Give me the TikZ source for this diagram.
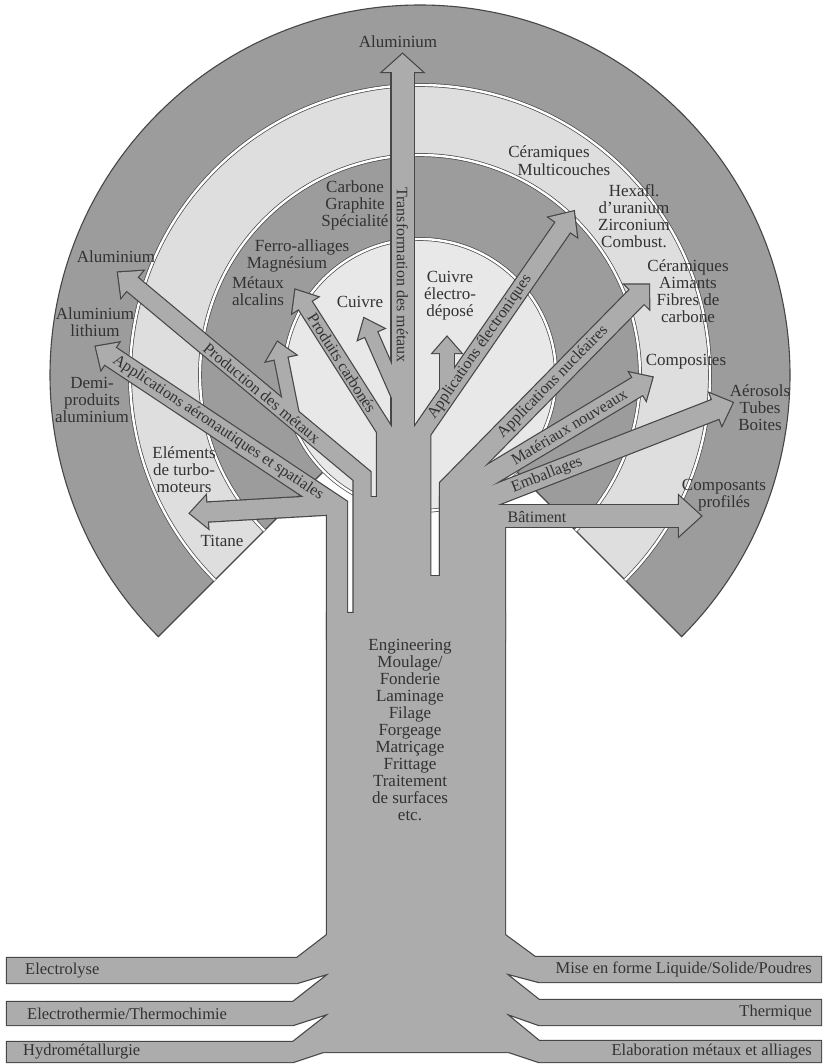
\documentclass[tikz,border=0pt]{standalone}
\usepackage{fontspec}
\setmainfont{Liberation Serif}
\usetikzlibrary{calc}
\definecolor{ringdark}{RGB}{156,156,156}
\definecolor{ringlight}{RGB}{222,222,222}
\definecolor{innerc}{RGB}{232,232,232}
\definecolor{branch}{RGB}{172,172,172}
\definecolor{edge}{RGB}{70,70,70}
\definecolor{txt}{RGB}{50,50,50}
\newcommand\ahead[3]{\path[headst] ($(#1)!#3pt!90:(#2)$) -- (#2) -- ($(#1)!#3pt!-90:(#2)$) -- cycle;}
\newcommand\treebody{%
  \path[trunkst] (327,613) -- (327,935) -- (297,958) -- (7,958) -- (7,983) -- (297,983) -- (330,973) -- (293,1002) -- (7,1002) -- (7,1025) -- (293,1025) -- (330,1013) -- (293,1042) -- (7,1042) -- (7,1062) -- (293,1062) -- (323,1052) -- (509,1052) -- (539,1062) -- (821,1062) -- (821,1041) -- (539,1041) -- (505,1013) -- (539,1025) -- (821,1025) -- (821,1000) -- (539,1000) -- (505,973) -- (539,982) -- (821,982) -- (821,957) -- (535,957) -- (505,935) -- (505,613) -- cycle;
  \path[trunkst] (370,497) rectangle (377,640);
  \path[trunkst] (430,576) rectangle (440,640);
  \path[trunkst] (440,640) -- (440,497) -- (478,480) -- (496,506) -- (505,508) -- (505,640) -- cycle;
  % main stem
  \path[shaft=22] (402.5,640) -- ($(Bmain)!3pt!(Tmain)$);
  \ahead{Bmain}{Tmain}{20}
  % aeronautiques
  \path[shaft=20] (337,640) -- (337,507) -- ($(Bae)!3pt!(Tae)$);
  \ahead{Bae}{Tae}{16}
  % titane
  \path[shaft=19] (330,505) -- ($(Bti)!3pt!(Tti)$);
  \ahead{Bti}{Tti}{16}
  % production
  \path[shaft=17] (362,640) -- (362,476) -- ($(Bpr)!3pt!(Tpr)$);
  \ahead{Bpr}{Tpr}{17}
  % metaux alcalins
  \path[shaft=13] (293,418) -- ($(Bma)!3pt!(Tma)$);
  \ahead{Bma}{Tma}{15}
  % carbones
  \path[shaft=15] (384.5,640) -- (384.5,430) -- ($(Bca)!3pt!(Tca)$);
  \ahead{Bca}{Tca}{15}
  % cuivre
  \path[shaft=13] (400,400) -- ($(Bcu)!3pt!(Tcu)$);
  \ahead{Bcu}{Tcu}{14}
  % electroniques
  \path[shaft=17.5] (421.5,640) -- (421.5,432) -- ($(Bel)!3pt!(Tel)$);
  \ahead{Bel}{Tel}{17}
  % cuivre electrodepose
  \path[shaft=14] (447,395) -- ($(Bce)!3pt!(Tce)$);
  \ahead{Bce}{Tce}{14}
  % nucleaires
  \path[shaft=20] (450,640) -- (450,487) -- ($(Bnu)!3pt!(Tnu)$);
  \ahead{Bnu}{Tnu}{17}
  % materiaux
  \path[shaft=20] (465,490) -- ($(Bmt)!3pt!(Tmt)$);
  \ahead{Bmt}{Tmt}{16}
  % emballages
  \path[shaft=20] (480,501) -- ($(Bem)!3pt!(Tem)$);
  \ahead{Bem}{Tem}{17}
  % batiment
  \path[shaft=22] (480,516) -- ($(Bba)!3pt!(Tba)$);
  \ahead{Bba}{Tba}{20}
}
\begin{document}
\begin{tikzpicture}[x=1pt,y=-1pt,
  lbl/.style={font=\fontsize{17}{17}\selectfont, text=txt, inner sep=0pt, align=center},
  blbl/.style={font=\fontsize{16}{16}\selectfont, text=txt, inner sep=0pt},
  barlbl/.style={font=\fontsize{16.5}{17}\selectfont, text=txt, inner sep=0pt},
  ringline/.style={draw=edge, line width=0.7pt, double=white, double distance=2.4pt}]
\useasboundingbox (0,0) rectangle (824,1064);
\fill[white] (0,0) rectangle (824,1064);
\coordinate (C) at (420,375);
% rings
\fill[ringdark] (C) -- ($(C)+(135:370)$) arc[start angle=135,end angle=405,radius=370] -- cycle;
\fill[ringlight] (C) -- ($(C)+(135:290)$) arc[start angle=135,end angle=405,radius=290] -- cycle;
\fill[ringdark] (C) -- ($(C)+(135:220)$) arc[start angle=135,end angle=405,radius=220] -- cycle;
\fill[innerc] (C) circle[radius=136];
\draw[edge, line width=1.1pt, line join=miter] ($(C)+(135:136)$) -- ($(C)+(135:370)$) arc[start angle=135,end angle=405,radius=370] -- ($(C)+(45:136)$);
\draw[ringline] ($(C)+(135:290)$) arc[start angle=135,end angle=405,radius=290];
\draw[ringline] ($(C)+(135:220)$) arc[start angle=135,end angle=405,radius=220];
\draw[ringline] (C) circle[radius=136];
% arrow coordinates
\coordinate (Bmain) at (402.5,72);  \coordinate (Tmain) at (402.5,54);
\coordinate (Bae) at (110,356);     \coordinate (Tae) at (95.8,346.6);
\coordinate (Bti) at (207,512);     \coordinate (Tti) at (190,513.3);
\coordinate (Bpr) at (132,284);     \coordinate (Tpr) at (118,272.5);
\coordinate (Bma) at (281,358);     \coordinate (Tma) at (277.5,342);
\coordinate (Bca) at (305,305);     \coordinate (Tca) at (295.4,289.8);
\coordinate (Bcu) at (371,334);     \coordinate (Tcu) at (364.2,318.4);
\coordinate (Bel) at (563,227);     \coordinate (Tel) at (573.8,211.4);
\coordinate (Bce) at (447,353);     \coordinate (Tce) at (447,337);
\coordinate (Bnu) at (637,296.6);   \coordinate (Tnu) at (649,284.5);
\coordinate (Bmt) at (637.8,386.2); \coordinate (Tmt) at (652.4,377.4);
\coordinate (Bem) at (715.8,409.2); \coordinate (Tem) at (732.6,402.7);
\coordinate (Bba) at (679,516);     \coordinate (Tba) at (701,516);
% tree: outline pass
\begin{scope}[trunkst/.style={draw=edge,fill=edge,line width=2.4pt,line join=miter},
  shaft/.style={draw=edge,line width=#1pt+2.4pt,line join=miter,line cap=butt},
  headst/.style={draw=edge,fill=edge,line width=2.4pt,line join=miter}]
  \treebody
\end{scope}
% tree: fill pass
\begin{scope}[trunkst/.style={fill=branch},
  shaft/.style={draw=branch,line width=#1pt,line join=miter,line cap=butt},
  headst/.style={fill=branch}]
  \treebody
\end{scope}
% ring labels
\node[lbl] (alutop) at (398,42) {Aluminium};
\node[lbl] (carb) at (355,205) {Carbone\\Graphite\\Spécialité};
\node[lbl] (ferro) at (302,247) {Ferro-alliages};
\node[lbl] (magn) at (287,264) {Magnésium};
\node[lbl] (metx) at (258,291.5) {Métaux\\alcalins};
\node[lbl] (cuiv) at (360,302) {Cuivre};
\node[lbl] (cuived) at (450,296) {Cuivre\\électro-\\déposé};
\node[lbl] (ceram1) at (549,153) {Céramiques};
\node[lbl] (multi) at (564,170) {Multicouches};
\node[lbl] (hexa) at (634,216) {Hexafl.\\d'uranium\\Zirconium\\Combust.};
\node[lbl] (ceram2) at (688,291) {Céramiques\\Aimants\\Fibres de\\carbone};
\node[lbl] (compo) at (686,362) {Composites};
\node[lbl] (aeros) at (760,408) {Aérosols\\Tubes\\Boites};
\node[lbl] (compos) at (724,495) {Composants\\profilés};
\node[lbl] (alul) at (116,257) {Aluminium};
\node[lbl] (alli) at (95,322) {Aluminium\\lithium};
\node[lbl] (demi) at (92,400) {Demi-\\produits\\aluminium};
\node[lbl] (elem) at (184,470) {Eléments\\de turbo-\\moteurs};
\node[lbl] (titane) at (222,541) {Titane};
\node[lbl] (eng) at (410,730) {Engineering\\Moulage/\\Fonderie\\Laminage\\Filage\\Forgeage\\Matriçage\\Frittage\\Traitement\\de surfaces\\etc.};
% branch labels
\node[blbl, rotate=-33.6] (laero) at (218,428) {Applications aéronautiques et spatiales};
\node[blbl, rotate=-39.9] (lprod) at (262,393) {Production des métaux};
\node[blbl, rotate=-57.7] (lcarb) at (342,363) {Produits carbonés};
\node[blbl, rotate=-90] (ltrans) at (402.5,275) {Transformation des métaux};
\node[blbl, rotate=55.4] (lelec) at (480,347) {Applications électroniques};
\node[blbl, rotate=45.5] (lnucl) at (553,382) {Applications nucléaires};
\node[blbl, rotate=31] (lmat) at (569,427) {Matériaux nouveaux};
\node[blbl, rotate=21.3] (lemb) at (547,475) {Emballages};
\node[blbl] (lbat) at (537,517) {Bâtiment};
% root labels
\node[barlbl, anchor=west] (r1) at (25,970.5) {Electrolyse};
\node[barlbl, anchor=west] (r2) at (27,1013.5) {Electrothermie/Thermochimie};
\node[barlbl, anchor=west] (r3) at (23,1052) {Hydrométallurgie};
\node[barlbl, anchor=east] (r4) at (812,969.5) {Mise en forme Liquide/Solide/Poudres};
\node[barlbl, anchor=east] (r5) at (812,1012.5) {Thermique};
\node[barlbl, anchor=east] (r6) at (812,1052) {Elaboration métaux et alliages};
\end{tikzpicture}
\end{document}
